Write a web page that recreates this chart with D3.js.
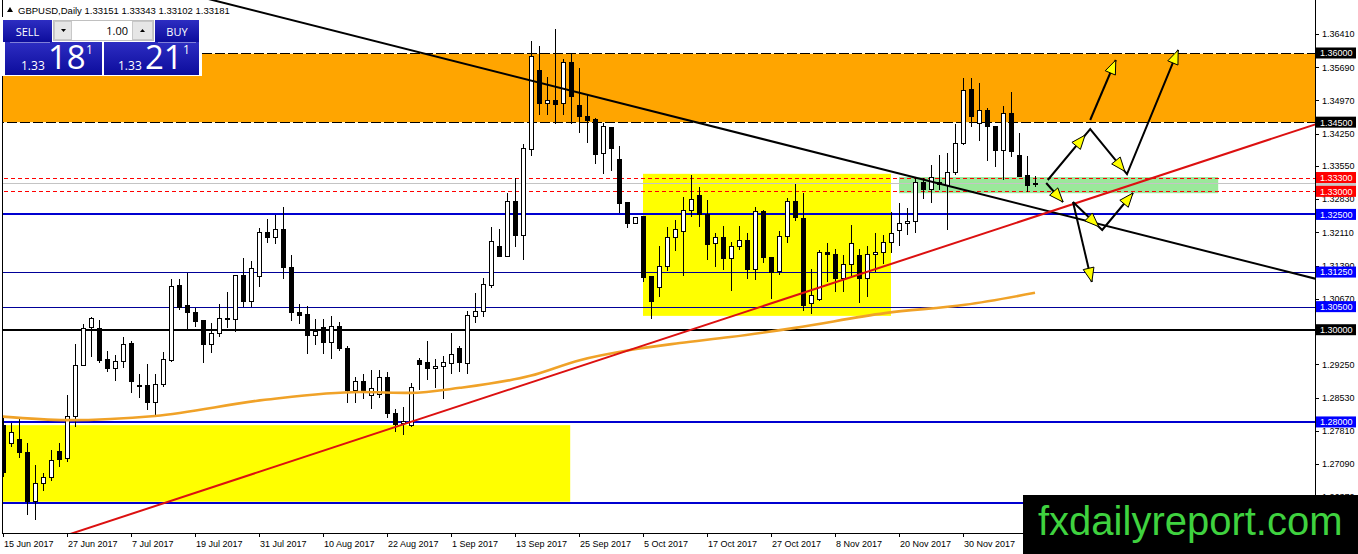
<!DOCTYPE html>
<html><head><meta charset="utf-8">
<script src="https://cdn.jsdelivr.net/npm/d3@7"></script>
<style>body{margin:0;background:#fff}svg{display:block;font-family:"Liberation Sans",Arial,sans-serif}</style>
</head><body><svg id="c" width="1358" height="554"></svg>
<script>
// ---------------- DATA ----------------
const symbol = "GBPUSD,Daily";
const lastQuote = [1.33151, 1.33343, 1.33102, 1.33181];
const sellQuote = ["1.33", "18", "1"];
const buyQuote = ["1.33", "21", "1"];
const lotSize = "1.00";

const opens = [1.2793,1.2754,1.2763,1.2734,1.2627,1.2666,1.2680,1.2736,1.2721,1.2811,
1.2922,1.3005,1.3003,1.2935,1.2916,1.2932,1.2970,1.2880,1.2878,1.2842,
1.2881,1.2934,1.3096,1.3052,1.3037,1.3021,1.2968,1.2992,1.3024,1.3022,
1.3118,1.3061,1.3116,1.3211,1.3200,1.3217,1.3135,1.3038,1.3032,1.2988,
1.3005,1.2972,1.3008,1.2959,1.2868,1.2887,1.2858,1.2860,1.2896,1.2818,
1.2797,1.2793,1.2934,1.2928,1.2916,1.2921,1.2927,1.2959,1.2927,1.3029,
1.3039,1.3095,1.3181,1.3158,1.3277,1.3205,1.3391,1.3562,1.3491,1.3497,
1.3491,1.3579,1.3487,1.3463,1.3456,1.3382,1.3439,1.3369,1.3275,1.3231,
1.3245,1.3115,1.3092,1.3137,1.3200,1.3214,1.3258,1.3292,1.3249,1.3186,
1.3200,1.3155,1.3180,1.3194,1.3131,1.3256,1.3157,1.3126,1.3202,1.3278,
1.3241,1.3056,1.3066,1.3168,1.3164,1.3110,1.3142,1.3160,1.3111,1.3162,
1.3167,1.3189,1.3215,1.3231,1.3234,1.3319,1.3304,1.3319,1.3312,1.3340,
1.3404,1.3520,1.3447,1.3476,1.3440,1.3388,1.3469,1.3377,1.3335,1.33151];
const highs = [1.2810,1.2798,1.2811,1.2755,1.2706,1.2690,1.2740,1.2755,1.2858,1.2969,
1.3012,1.3028,1.3022,1.2954,1.2945,1.2985,1.2976,1.2905,1.2925,1.2905,
1.2951,1.3111,1.3109,1.3122,1.3046,1.3021,1.3015,1.3055,1.3082,1.3118,
1.3155,1.3149,1.3220,1.3241,1.3249,1.3265,1.3162,1.3056,1.3051,1.3024,
1.3024,1.3030,1.3017,1.2965,1.2898,1.2905,1.2912,1.2912,1.2909,1.2829,
1.2833,1.2885,1.2938,1.2976,1.2936,1.2943,1.2992,1.2964,1.3041,1.3079,
1.3113,1.3223,1.3219,1.3297,1.3328,1.3403,1.3627,1.3615,1.3547,1.3653,
1.3588,1.3599,1.3567,1.3509,1.3458,1.3449,1.3440,1.3398,1.3276,1.3245,
1.3245,1.3115,1.3181,1.3222,1.3238,1.3288,1.3335,1.3310,1.3281,1.3209,
1.3225,1.3191,1.3225,1.3209,1.3267,1.3259,1.3158,1.3215,1.3285,1.3317,
1.3297,1.3131,1.3173,1.3187,1.3174,1.3162,1.3227,1.3174,1.3181,1.3210,
1.3205,1.3256,1.3275,1.3263,1.3328,1.3328,1.3357,1.3379,1.3384,1.3447,
1.3545,1.3545,1.3536,1.3480,1.3440,1.3484,1.3516,1.3427,1.3377,1.33343];
const lows = [1.2680,1.2746,1.2721,1.2599,1.2587,1.2651,1.2672,1.2703,1.2713,1.2789,
1.2921,1.2941,1.2927,1.2909,1.2889,1.2916,1.2863,1.2851,1.2826,1.2810,
1.2875,1.2930,1.3042,1.3000,1.3006,1.2928,1.2950,1.2985,1.3004,1.2995,
1.3050,1.3050,1.3093,1.3187,1.3186,1.3109,1.3019,1.3012,1.2948,1.2967,
1.2948,1.2936,1.2954,1.2842,1.2840,1.2849,1.2829,1.2851,1.2808,1.2779,
1.2771,1.2790,1.2869,1.2892,1.2873,1.2849,1.2904,1.2909,1.2905,1.3015,
1.3028,1.3090,1.3157,1.3157,1.3180,1.3151,1.3377,1.3465,1.3465,1.3447,
1.3465,1.3447,1.3427,1.3405,1.3359,1.3338,1.3345,1.3252,1.3220,1.3230,
1.3104,1.3024,1.3071,1.3128,1.3171,1.3116,1.3245,1.3222,1.3152,1.3137,
1.3129,1.3084,1.3173,1.3109,1.3108,1.3145,1.3066,1.3118,1.3189,1.3236,
1.3041,1.3034,1.3063,1.3104,1.3082,1.3082,1.3115,1.3058,1.3070,1.3126,
1.3142,1.3166,1.3181,1.3205,1.3209,1.3283,1.3275,1.3304,1.3216,1.3335,
1.3400,1.3440,1.3410,1.3366,1.3353,1.3324,1.3375,1.3332,1.3299,1.33102];
const closes = [1.2690,1.2777,1.2734,1.2627,1.2666,1.2680,1.2717,1.2719,1.2811,1.2923,
1.3003,1.3025,1.2934,1.2916,1.2931,1.2968,1.2887,1.2879,1.2842,1.2882,
1.2935,1.3094,1.3048,1.3037,1.3018,1.2968,1.2992,1.3024,1.3025,1.3118,
1.3061,1.3133,1.3211,1.3200,1.3217,1.3135,1.3037,1.3030,1.2988,1.2997,
1.2972,1.3008,1.2959,1.2868,1.2887,1.2868,1.2873,1.2896,1.2818,1.2795,
1.2800,1.2875,1.2925,1.2916,1.2921,1.2928,1.2947,1.2928,1.3030,1.3039,
1.3097,1.3191,1.3158,1.3277,1.3205,1.3393,1.3592,1.3491,1.3497,1.3489,
1.3579,1.3505,1.3462,1.3453,1.3379,1.3440,1.3393,1.3274,1.3231,1.3244,
1.3113,1.3061,1.3138,1.3200,1.3217,1.3259,1.3283,1.3249,1.3184,1.3200,
1.3155,1.3180,1.3194,1.3131,1.3256,1.3157,1.3124,1.3202,1.3278,1.3244,
1.3053,1.3075,1.3167,1.3164,1.3110,1.3142,1.3187,1.3111,1.3162,1.3167,
1.3189,1.3209,1.3231,1.3234,1.3319,1.3303,1.3330,1.3314,1.3340,1.3404,
1.3518,1.3463,1.3476,1.3440,1.3388,1.3469,1.3386,1.3332,1.3312,1.33181];

const dateTickBars = [0,8,16,24,32,40,48,56,64,72,80,88,96,104,112,120];
const dateTickLabels = ["15 Jun 2017","27 Jun 2017","7 Jul 2017","19 Jul 2017","31 Jul 2017",
"10 Aug 2017","22 Aug 2017","1 Sep 2017","13 Sep 2017","25 Sep 2017","5 Oct 2017",
"17 Oct 2017","27 Oct 2017","8 Nov 2017","20 Nov 2017","30 Nov 2017"];
const priceTicks = [1.36410,1.35690,1.34970,1.34250,1.33550,1.32830,1.32110,1.31390,
1.30670,1.29950,1.29250,1.28530,1.27810,1.27090,1.26370];

const resistanceZone = [1.3450, 1.3600];
const levelLines = [1.3250, 1.3125, 1.3050, 1.3000, 1.2800, 1.2625];
const dottedLevels = [1.3330, 1.3300];
const tagValues = [1.3600, 1.3450, 1.3330, 1.3300, 1.3250, 1.3125, 1.3050, 1.3000, 1.2800];
const bidPrice = 1.33181;

const box1Bars = [-4, 70.9], box1Prices = [1.2627, 1.2793];
const box2Bars = [80, 111], box2Prices = [1.3030, 1.3338];
const box3Bars = [112, 151.9], box3Prices = [1.3296, 1.3331];

const maBars = [-0.4, 8, 19, 32.75, 44.6, 50.9, 57.1, 65.9, 72.1, 78.4, 84.6, 90.9, 99, 110.25, 120.25, 129];
const maValues = [1.2812, 1.2804, 1.2813, 1.2848, 1.2865, 1.2863, 1.2874, 1.2900, 1.2934, 1.2956, 1.2971, 1.2984, 1.3004, 1.3036, 1.3054, 1.3080];

const blackTrend = [[65.25, 1.35436], [98.375, 1.33984]];
const redTrend = [[32.75, 1.2696], [130.875, 1.32559]];

const forecastPaths = [
  [[130.6,1.33246],[135.9,1.34352],[140.5,1.33376],[146.9,1.36065]],
  [[135.9,1.34547],[139.1,1.35848]],
  [[130.4,1.33181],[132.5,1.32769]],
  [[133.75,1.32769],[137.4,1.32162],[141.25,1.32964]],
  [[133.75,1.32769],[136.1,1.31035]]
];
// [path, segment, position along segment]
const forecastHeads = [[0,0,0.88],[0,1,0.94],[0,2,1],[1,0,1],[2,0,1],[3,0,0.88],[3,1,1],[4,0,1]];

// ---------------- DRAW ----------------
const W = 1358, H = 554;
const svg = d3.select("#c");
const x = d3.scaleLinear().domain([0, 164]).range([3, 1315]);
const y = d3.scaleLinear().domain([1.25592, 1.37149]).range([533, 0]);
const X0 = x(-6), X1 = x(170);

svg.append("rect").attr("width", W).attr("height", H).attr("fill", "#fff");
const defs = svg.append("defs");
defs.append("clipPath").attr("id", "plot").append("rect")
  .attr("x", 3).attr("y", 0).attr("width", 1312).attr("height", 533);
const grad = defs.append("linearGradient").attr("id", "bl").attr("x1", 0).attr("x2", 0).attr("y1", 0).attr("y2", 1);
grad.append("stop").attr("offset", "0").attr("stop-color", "#2d2dc2");
grad.append("stop").attr("offset", "1").attr("stop-color", "#0c0c9c");

const g = svg.append("g").attr("clip-path", "url(#plot)");

function box(bars, prices, fill) {
  g.append("rect").attr("x", x(bars[0])).attr("width", x(bars[1]) - x(bars[0]))
    .attr("y", y(prices[1])).attr("height", y(prices[0]) - y(prices[1])).attr("fill", fill);
}
box([-6, 170], resistanceZone, "#ffa500");
box(box1Bars, box1Prices, "#ffff00");
box(box2Bars, box2Prices, "#ffff00");
box(box3Bars, box3Prices, "#9ae89a");

function hline(v, color, w, dash) {
  const yy = Math.round(y(v)) + (w % 2 ? 0.5 : 0);
  const l = g.append("line").attr("x1", X0).attr("x2", X1)
    .attr("y1", yy).attr("y2", yy).attr("stroke", color).attr("stroke-width", w)
    .attr("shape-rendering", "crispEdges");
  if (dash) l.attr("stroke-dasharray", dash);
}
hline(bidPrice, "#c4c4c4", 1);
dottedLevels.forEach(v => hline(v, "#ff0000", 1, "4,3"));
const levelStyle = [["#0000d0",2],["#000098",1],["#000098",1],["#000000",2],["#0000d0",2],["#0000d0",2]];
levelLines.forEach((v, i) => hline(v, levelStyle[i][0], levelStyle[i][1]));
resistanceZone.forEach(v => { hline(v, "#fff2cc", 1); hline(v, "#000", 1, "10,3"); });

// candles
const idx = d3.range(opens.length);
const cg = g.append("g").attr("shape-rendering", "crispEdges");
cg.selectAll("line").data(idx).join("line")
  .attr("x1", i => x(i) + 0.5).attr("x2", i => x(i) + 0.5)
  .attr("y1", i => y(highs[i])).attr("y2", i => y(lows[i])).attr("stroke", "#000");
cg.selectAll("rect").data(idx).join("rect")
  .attr("x", i => x(i) - 1.5).attr("width", 4)
  .attr("y", i => y(Math.max(opens[i], closes[i])))
  .attr("height", i => Math.max(1, Math.abs(y(opens[i]) - y(closes[i]))))
  .attr("fill", i => closes[i] >= opens[i] ? "#fff" : "#000").attr("stroke", "#000");

// moving average
g.append("path").datum(d3.range(maBars.length))
  .attr("d", d3.line().x(i => x(maBars[i])).y(i => y(maValues[i])).curve(d3.curveMonotoneX))
  .attr("fill", "none").attr("stroke", "#f0a228").attr("stroke-width", 2.6);

// trendlines (extended)
function trend(pts, color) {
  const [a, b] = pts; const s = (b[1] - a[1]) / (b[0] - a[0]);
  const b0 = -10, b1 = 170;
  g.append("line").attr("x1", x(b0)).attr("y1", y(a[1] + s * (b0 - a[0])))
    .attr("x2", x(b1)).attr("y2", y(a[1] + s * (b1 - a[0])))
    .attr("stroke", color).attr("stroke-width", 2);
}
trend(blackTrend, "#000");
trend(redTrend, "#dc1010");

// forecast arrows
const lineGen = d3.line().x(d => x(d[0])).y(d => y(d[1]));
forecastPaths.forEach(p => g.append("path").attr("d", lineGen(p)).attr("fill", "none")
  .attr("stroke", "#000").attr("stroke-width", 2));
forecastHeads.forEach(([pi, si, t]) => {
  const p0 = forecastPaths[pi][si], p1 = forecastPaths[pi][si + 1];
  const ax = x(p0[0]), ay = y(p0[1]), bx = x(p1[0]), by = y(p1[1]);
  const tx = ax + (bx - ax) * t, ty = ay + (by - ay) * t;
  const L = Math.hypot(bx - ax, by - ay), ux = (bx - ax) / L, uy = (by - ay) / L;
  const len = 14, hw = 5.5, cx = tx - ux * len, cy = ty - uy * len;
  g.append("polygon").attr("points", [[tx, ty], [cx - uy * hw, cy + ux * hw], [cx + uy * hw, cy - ux * hw]].map(q => q.join(",")).join(" "))
    .attr("fill", "#ffff00").attr("stroke", "#000").attr("stroke-width", 1);
});

// frame
const fr = svg.append("g").attr("stroke", "#000").attr("shape-rendering", "crispEdges");
fr.append("line").attr("x1", 2.5).attr("x2", 2.5).attr("y1", 0).attr("y2", 533.5);
fr.append("line").attr("x1", 2.5).attr("x2", 1315.5).attr("y1", 533.5).attr("y2", 533.5);
fr.append("line").attr("x1", 1315.5).attr("x2", 1315.5).attr("y1", 0).attr("y2", H);

// date axis
dateTickBars.forEach((b, i) => {
  fr.append("line").attr("x1", Math.round(x(b)) + 0.5).attr("x2", Math.round(x(b)) + 0.5).attr("y1", 533).attr("y2", 537);
  svg.append("text").attr("x", x(b) + 1).attr("y", 546.5).attr("font-size", 9).attr("fill", "#000").text(dateTickLabels[i]);
});

// price axis
priceTicks.forEach(v => {
  fr.append("line").attr("x1", 1315).attr("x2", 1319).attr("y1", Math.round(y(v)) + 0.5).attr("y2", Math.round(y(v)) + 0.5);
  svg.append("text").attr("x", 1322).attr("y", y(v) + 3.3).attr("font-size", 9).attr("fill", "#000").text(v.toFixed(5));
});
function tag(v, bg, fg) {
  svg.append("rect").attr("x", 1316).attr("y", y(v) - 5.5).attr("width", 40).attr("height", 11).attr("fill", bg);
  svg.append("text").attr("x", 1320).attr("y", y(v) + 3.4).attr("font-size", 9).attr("fill", fg).text(v.toFixed(5));
}
svg.append("rect").attr("x", 1316).attr("y", y(bidPrice) - 5.5).attr("width", 40).attr("height", 11).attr("fill", "#c8c8c8");
const tagColor = ["#000","#000","#ff0000","#ff0000","#0000ff","#0000ff","#0000ff","#000","#0000ff"];
tagValues.forEach((v, i) => tag(v, tagColor[i], "#fff"));

// header
svg.append("path").attr("d", "M7,12 L13,12 L10,7 Z").attr("fill", "#000");
svg.append("text").attr("x", 18).attr("y", 14).attr("font-size", 9.5).attr("fill", "#000")
  .text(symbol + "  " + lastQuote.map(v => v.toFixed(5)).join(" "));

// one-click trading panel
const pn = svg.append("g").attr("font-family", "'Open Sans','Liberation Sans',sans-serif");
pn.append("rect").attr("x", 0).attr("y", 17).attr("width", 202).attr("height", 59).attr("fill", "#fff");
pn.append("rect").attr("x", 3).attr("y", 20).attr("width", 49).attr("height", 22).attr("fill", "url(#bl)");
pn.append("text").attr("x", 27.5).attr("y", 35.5).attr("text-anchor", "middle").attr("font-size", 11).attr("fill", "#fff").text("SELL");
pn.append("rect").attr("x", 155).attr("y", 20).attr("width", 44).attr("height", 22).attr("fill", "url(#bl)");
pn.append("text").attr("x", 177).attr("y", 35.5).attr("text-anchor", "middle").attr("font-size", 11).attr("fill", "#fff").text("BUY");
pn.append("rect").attr("x", 53.5).attr("y", 20.5).attr("width", 100).attr("height", 20).attr("fill", "#fff").attr("stroke", "#c0c0c0");
pn.append("rect").attr("x", 54.5).attr("y", 21.5).attr("width", 17).attr("height", 18).attr("fill", "#e6e6e6").attr("stroke", "#c8c8c8");
pn.append("rect").attr("x", 132.5).attr("y", 21.5).attr("width", 20).attr("height", 18).attr("fill", "#e6e6e6").attr("stroke", "#c8c8c8");
pn.append("path").attr("d", "M61,29 L66,29 L63.5,32 Z").attr("fill", "#000");
pn.append("path").attr("d", "M140,32 L145,32 L142.5,29 Z").attr("fill", "#000");
pn.append("text").attr("x", 128).attr("y", 35).attr("text-anchor", "end").attr("font-size", 11).attr("fill", "#000").text(lotSize);
pn.append("rect").attr("x", 5).attr("y", 42).attr("width", 97).attr("height", 33).attr("fill", "url(#bl)");
pn.append("rect").attr("x", 104).attr("y", 42).attr("width", 95).attr("height", 33).attr("fill", "url(#bl)");
pn.append("line").attr("x1", 10).attr("x2", 50).attr("y1", 42.5).attr("y2", 42.5).attr("stroke", "#8080d8");
pn.append("line").attr("x1", 158).attr("x2", 196).attr("y1", 42.5).attr("y2", 42.5).attr("stroke", "#8080d8");
function quote(q, x0) {
  pn.append("text").attr("x", x0).attr("y", 70).attr("font-size", 12).attr("fill", "#fff").text(q[0]);
  pn.append("text").attr("x", x0 + 27).attr("y", 69).attr("font-size", 33).attr("fill", "#fff").text(q[1]);
  pn.append("text").attr("x", x0 + 65).attr("y", 54).attr("font-size", 12).attr("fill", "#fff").text(q[2]);
}
quote(sellQuote, 21);
quote(buyQuote, 118);

// watermark
svg.append("rect").attr("x", 1023).attr("y", 495).attr("width", W - 1023).attr("height", H - 495).attr("fill", "#000");
svg.append("text").attr("x", 1038).attr("y", 535).attr("font-size", 40).attr("fill", "#3fd23f").text("fxdailyreport.com");
</script></body></html>
